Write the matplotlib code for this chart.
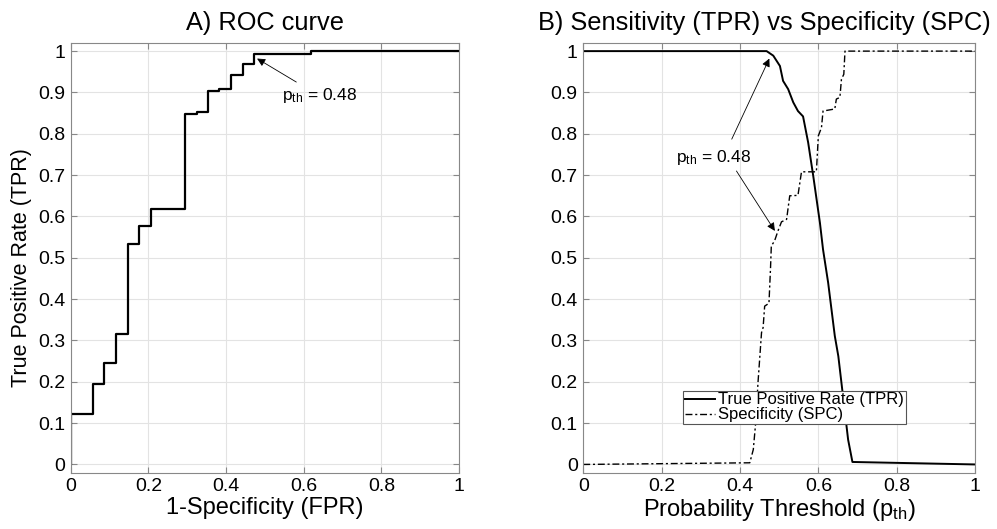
from matplotlib import pyplot as plt

plt.rcParams['font.family'] = ['Liberation Sans', 'DejaVu Sans']
plt.rcParams['mathtext.fontset'] = 'custom'
plt.rcParams['mathtext.rm'] = 'Liberation Sans'
plt.rcParams['mathtext.it'] = 'Liberation Sans'

# ROC corners (FPR where TPR jumps)
roc_fpr = [0, 0, 0.057, 0.087, 0.117, 0.147, 0.176, 0.206, 0.294, 0.324,
           0.353, 0.383, 0.413, 0.443, 0.472, 0.618, 1.0]
roc_tpr = [0, 0.121, 0.194, 0.246, 0.316, 0.534, 0.577, 0.617, 0.847, 0.852,
           0.903, 0.908, 0.943, 0.969, 0.994, 1.0, 1.0]

# sensitivity vs threshold
tpr_th = [0, 0.468, 0.485, 0.502, 0.510, 0.523, 0.536, 0.548, 0.561, 0.574,
          0.587, 0.604, 0.612, 0.625, 0.642, 0.651, 0.663, 0.676, 0.687, 1.0]
tpr_val = [1, 1, 0.989, 0.964, 0.928, 0.908, 0.876, 0.855, 0.842, 0.779,
           0.698, 0.585, 0.52, 0.44, 0.311, 0.262, 0.165, 0.06, 0.006, 0.0]

# specificity vs threshold
spc_th = [0, 0.425, 0.434, 0.44, 0.446, 0.455, 0.459, 0.463, 0.474, 0.478,
          0.48, 0.488, 0.497, 0.506, 0.519, 0.527, 0.548, 0.557, 0.595, 0.6,
          0.608, 0.612, 0.642, 0.646, 0.655, 0.659, 0.665, 0.668, 1.0]
spc_val = [0, 0.004, 0.036, 0.1, 0.198, 0.319, 0.331, 0.383, 0.39, 0.476,
           0.529, 0.54, 0.565, 0.587, 0.593, 0.65, 0.651, 0.708, 0.708, 0.795,
           0.815, 0.855, 0.86, 0.884, 0.888, 0.932, 0.944, 1.0, 1.0]

ticks = [0, 0.2, 0.4, 0.6, 0.8, 1]
yticks = [0, 0.1, 0.2, 0.3, 0.4, 0.5, 0.6, 0.7, 0.8, 0.9, 1]
yticklabels = ['0', '0.1', '0.2', '0.3', '0.4', '0.5', '0.6', '0.7', '0.8', '0.9', '1']
xticklabels = ['0', '0.2', '0.4', '0.6', '0.8', '1']

fig = plt.figure(figsize=(9.97, 5.29), dpi=100)
ax1 = fig.add_axes([0.0709, 0.1064, 0.3895, 0.8126])
ax2 = fig.add_axes([0.585, 0.1064, 0.393, 0.8126])

for ax in (ax1, ax2):
    ax.set_xlim(0, 1)
    ax.set_ylim(-0.02, 1.02)
    ax.set_xticks(ticks)
    ax.set_xticklabels(xticklabels)
    ax.set_yticks(yticks)
    ax.set_yticklabels(yticklabels)
    ax.grid(True, color='#e3e3e3', linewidth=0.8)
    ax.set_axisbelow(True)
    ax.tick_params(direction='in', top=True, right=True, labelsize=14,
                   color='#888888', length=4, pad=4)
    for s in ax.spines.values():
        s.set_color('#888888')

ax1.plot(roc_fpr, roc_tpr, color='k', linewidth=1.6, drawstyle='steps-post')
ax1.set_title('A) ROC curve', fontsize=18.3, pad=9)
ax1.set_xlabel('1-Specificity (FPR)', fontsize=17, labelpad=1)
ax1.set_ylabel('True Positive Rate (TPR)', fontsize=15.5, labelpad=2)
ax1.yaxis.set_label_coords(-0.1, 0.478)
ax1.annotate('$\\mathregular{p_{th}}$ = 0.48', xy=(0.48, 0.982), xytext=(0.543, 0.892),
             fontsize=12.5, va='center',
             arrowprops=dict(arrowstyle='-|>', color='k', lw=0.6,
                             shrinkA=2, shrinkB=0, mutation_scale=12))

ax2.plot(tpr_th, tpr_val, color='k', linewidth=1.4, label='True Positive Rate (TPR)')
ax2.plot(spc_th, spc_val, color='k', linewidth=1.0, linestyle=(0, (5, 2, 1.5, 2)),
         label='Specificity (SPC)')
ax2.set_title('B) Sensitivity (TPR) vs Specificity (SPC)', fontsize=18.3, pad=9, x=0.463)
ax2.set_xlabel('Probability Threshold ($\\mathregular{p_{th}}$)', fontsize=17, labelpad=1)
ax2.text(0.238, 0.743, '$\\mathregular{p_{th}}$ = 0.48', fontsize=12.5, va='center')
ax2.annotate('', xy=(0.475, 0.982), xytext=(0.379, 0.787),
             arrowprops=dict(arrowstyle='-|>', color='k', lw=0.6,
                             shrinkA=0, shrinkB=0, mutation_scale=12))
ax2.annotate('', xy=(0.489, 0.565), xytext=(0.391, 0.71),
             arrowprops=dict(arrowstyle='-|>', color='k', lw=0.6,
                             shrinkA=0, shrinkB=0, mutation_scale=12))
leg = ax2.legend(loc='lower left', bbox_to_anchor=(0.255, 0.113), fontsize=12,
                 frameon=True, fancybox=False, framealpha=1, edgecolor='#555555',
                 handlelength=1.8, handletextpad=0.2, borderpad=0.1,
                 labelspacing=0.0, borderaxespad=0)
leg.get_frame().set_linewidth(0.8)

plt.savefig('out.png', dpi=100)
